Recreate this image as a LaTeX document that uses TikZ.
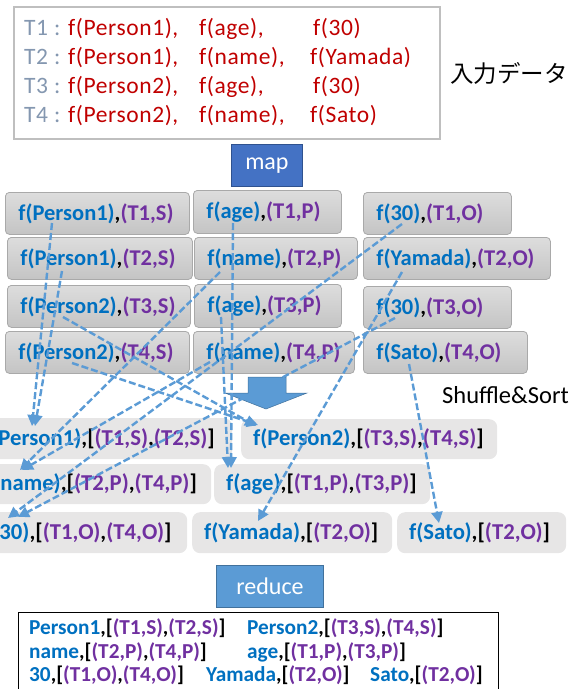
\documentclass[tikz,border=0pt]{standalone}
\usepackage{fontspec}
\setmainfont{Carlito}
\newfontfamily\trackfont[LetterSpace=2.5]{Carlito}
\newfontfamily\jpfont{Noto Sans CJK JP}
\usetikzlibrary{arrows.meta}
\definecolor{tgray}{HTML}{8497B0}
\definecolor{dred}{HTML}{C00000}
\definecolor{kblue}{HTML}{0070C0}
\definecolor{vpurp}{HTML}{7030A0}
\definecolor{abl}{HTML}{5B9BD5}
\definecolor{mapfill}{HTML}{4472C4}
\definecolor{mapdraw}{HTML}{2F528F}
\definecolor{redfill}{HTML}{5B9BD5}
\definecolor{reddraw}{HTML}{41719C}
\definecolor{shbox}{HTML}{E7E6E6}
\definecolor{grayA}{HTML}{DDDDDD}
\definecolor{grayB}{HTML}{C4C4C4}
\definecolor{boxedge}{HTML}{A9A9A9}
\definecolor{inedge}{HTML}{BFBFBF}
\newcommand\ktxt[1]{\textcolor{kblue}{#1}}
\newcommand\ptxt[1]{\textcolor{vpurp}{#1}}
\newcommand\kvpair[2]{\mbox{\ktxt{#1},\ptxt{#2}}}
\newcommand\kvlist[2]{\mbox{\ktxt{#1},[#2]}}
\tikzset{
  intext/.style={anchor=base west, inner sep=0pt, font=\trackfont\fontsize{23.5}{27}\selectfont},
  mapbox/.style={draw=boxedge, line width=0.8pt, rounded corners=4pt, top color=grayA, bottom color=grayB,
    anchor=north west, inner xsep=13pt, inner ysep=0pt, align=left, font=\fontsize{22.5}{27}\selectfont\bfseries},
  shufbox/.style={fill=shbox, rounded corners=8pt, anchor=north west, inner xsep=12pt, inner ysep=0pt,
    align=left, font=\fontsize{22.7}{26}\selectfont\bfseries},
  stagebox/.style={anchor=north west, inner sep=0pt, text=white, font=\fontsize{24}{28}\selectfont, line width=0.9pt},
  outtext/.style={anchor=west, inner sep=0pt, font=\fontsize{21.3}{25}\selectfont\bfseries},
  flow/.style={draw=abl, line width=2.4pt, dash pattern=on 7pt off 3pt, -{Triangle[length=11pt,width=11pt]}},
}
\begin{document}
\begin{tikzpicture}[x=1pt,y=-1pt]
\useasboundingbox (0,0) rectangle (581,689);
\clip (0,0) rectangle (581,689);
% input box
\node[draw=inedge, line width=1.5pt, anchor=north west, minimum width=426pt, minimum height=132pt, inner sep=0pt] (inbox) at (13,6) {};
\node[intext, text=tgray] (t1) at (24,35) {T1 :};
\node[intext, text=tgray] (t2) at (24,64) {T2 :};
\node[intext, text=tgray] (t3) at (24,93) {T3 :};
\node[intext, text=tgray] (t4) at (24,122) {T4 :};
\node[intext, text=dred] (i11) at (68,35) {f(Person1),};
\node[intext, text=dred] (i21) at (68,64) {f(Person1),};
\node[intext, text=dred] (i31) at (68,93) {f(Person2),};
\node[intext, text=dred] (i41) at (68,122) {f(Person2),};
\node[intext, text=dred] (i12) at (199,35) {f(age),};
\node[intext, text=dred] (i22) at (199,64) {f(name),};
\node[intext, text=dred] (i32) at (199,93) {f(age),};
\node[intext, text=dred] (i42) at (199,122) {f(name),};
\node[intext, text=dred] (i13) at (313,35) {f(30)};
\node[intext, text=dred] (i23) at (310,64) {f(Yamada)};
\node[intext, text=dred] (i33) at (313,93) {f(30)};
\node[intext, text=dred] (i43) at (310,122) {f(Sato)};
\node[anchor=west, inner sep=0pt, font=\jpfont\fontsize{23.5}{28}\selectfont] (inlabel) at (450,73) {入力データ};
% map
\node[stagebox, fill=mapfill, draw=mapdraw, minimum width=71pt, minimum height=42pt] (map) at (231,144) {map};
% map outputs
\node[mapbox, text width=158pt, minimum height=42pt] (m11) at (5,192) {\kvpair{f(Person1)}{(T1,S)}};
\node[mapbox, text width=159pt, minimum height=42pt] (m12) at (7,237) {\kvpair{f(Person1)}{(T2,S)}};
\node[mapbox, text width=157pt, minimum height=42pt] (m13) at (7,285) {\kvpair{f(Person2)}{(T3,S)}};
\node[mapbox, text width=158pt, minimum height=42pt] (m14) at (5,331) {\kvpair{f(Person2)}{(T4,S)}};
\node[mapbox, text width=122pt, minimum height=43pt] (m21) at (193,190) {\kvpair{f(age)}{(T1,P)}};
\node[mapbox, text width=137pt, minimum height=42pt] (m22) at (194,237) {\kvpair{f(name)}{(T2,P)}};
\node[mapbox, text width=121pt, minimum height=43pt] (m23) at (194,284) {\kvpair{f(age)}{(T3,P)}};
\node[mapbox, text width=135pt, minimum height=42pt] (m24) at (193,331) {\kvpair{f(name)}{(T4,P)}};
\node[mapbox, text width=122pt, minimum height=42pt] (m31) at (363,192) {\kvpair{f(30)}{(T1,O)}};
\node[mapbox, text width=161pt, minimum height=42pt] (m32) at (363,237) {\kvpair{f(Yamada)}{(T2,O)}};
\node[mapbox, text width=122pt, minimum height=42pt] (m33) at (363,286) {\kvpair{f(30)}{(T3,O)}};
\node[mapbox, text width=138pt, minimum height=42pt] (m34) at (363,331) {\kvpair{f(Sato)}{(T4,O)}};
% shuffle arrow
\fill[abl, draw=reddraw, line width=0.5pt] (248,377) -- (286,377) -- (286,393) -- (307,393) -- (266,409) -- (225,393) -- (248,393) -- cycle;
\node[anchor=west, inner sep=0pt, font=\fontsize{24.5}{28}\selectfont] (shlabel) at (442,395) {Shuffle\&Sort};
% shuffle outputs
\node[shufbox, text width=236pt, minimum height=41pt] (s1a) at (-28,418) {\kvlist{f(Person1)}{\ptxt{(T1,S)},\ptxt{(T2,S)}}};
\node[shufbox, text width=232pt, minimum height=40pt] (s1b) at (241,419) {\kvlist{f(Person2)}{\ptxt{(T3,S)},\ptxt{(T4,S)}}};
\node[shufbox, text width=213pt, minimum height=40pt] (s2a) at (-26,464) {\kvlist{f(name)}{\ptxt{(T2,P)},\ptxt{(T4,P)}}};
\node[shufbox, text width=192pt, minimum height=40pt] (s2b) at (214,464) {\kvlist{f(age)}{\ptxt{(T1,P)},\ptxt{(T3,P)}}};
\node[shufbox, text width=190pt, minimum height=41pt] (s3a) at (-27,512) {\kvlist{f(30)}{\ptxt{(T1,O)},\ptxt{(T4,O)}}};
\node[shufbox, text width=176pt, minimum height=41pt] (s3b) at (192,512) {\kvlist{f(Yamada)}{\ptxt{(T2,O)}}};
\node[shufbox, text width=145pt, minimum height=41pt] (s3c) at (397,512) {\kvlist{f(Sato)}{\ptxt{(T2,O)}}};
% reduce
\node[stagebox, fill=redfill, draw=reddraw, minimum width=107pt, minimum height=42pt] (reduce) at (216,565) {reduce};
% output
\node[draw=black, line width=1.3pt, anchor=north west, minimum width=480pt, minimum height=82pt, inner sep=0pt] (outbox) at (18,612) {};
\node[outtext] (o1) at (29,628) {\kvlist{Person1}{\ptxt{(T1,S)},\ptxt{(T2,S)}}};
\node[outtext] (o2) at (247,628) {\kvlist{Person2}{\ptxt{(T3,S)},\ptxt{(T4,S)}}};
\node[outtext] (o3) at (29,652) {\kvlist{name}{\ptxt{(T2,P)},\ptxt{(T4,P)}}};
\node[outtext] (o4) at (247,652) {\kvlist{age}{\ptxt{(T1,P)},\ptxt{(T3,P)}}};
\node[outtext] (o5) at (29,675) {\kvlist{30}{\ptxt{(T1,O)},\ptxt{(T4,O)}}};
\node[outtext] (o6) at (206,675) {\kvlist{Yamada}{\ptxt{(T2,O)}}};
\node[outtext] (o7) at (370,675) {\kvlist{Sato}{\ptxt{(T2,O)}}};
% connector endpoints
\coordinate (a1s) at (52,223);  \coordinate (a1e) at (32,426);
\coordinate (a2s) at (62,271);  \coordinate (a2e) at (35,426);
\coordinate (a3s) at (63,317);  \coordinate (a3e) at (256,426);
\coordinate (a4s) at (72,363);  \coordinate (a4e) at (258,425);
\coordinate (a5s) at (220,272); \coordinate (a5e) at (20,470);
\coordinate (a6s) at (210,362); \coordinate (a6e) at (22,470);
\coordinate (a7s) at (233,223); \coordinate (a7e) at (231,468);
\coordinate (a8s) at (221,317); \coordinate (a8e) at (228,468);
\coordinate (a9s) at (402,224); \coordinate (a9e) at (8,518);
\coordinate (a10s) at (395,318); \coordinate (a10e) at (18,517);
\coordinate (a11s) at (402,272); \coordinate (a11e) at (258,521);
\coordinate (a12s) at (409,364); \coordinate (a12e) at (439,523);
\foreach \i in {1,...,12} { \draw[flow] (a\i s) -- (a\i e); }
\end{tikzpicture}
\end{document}
